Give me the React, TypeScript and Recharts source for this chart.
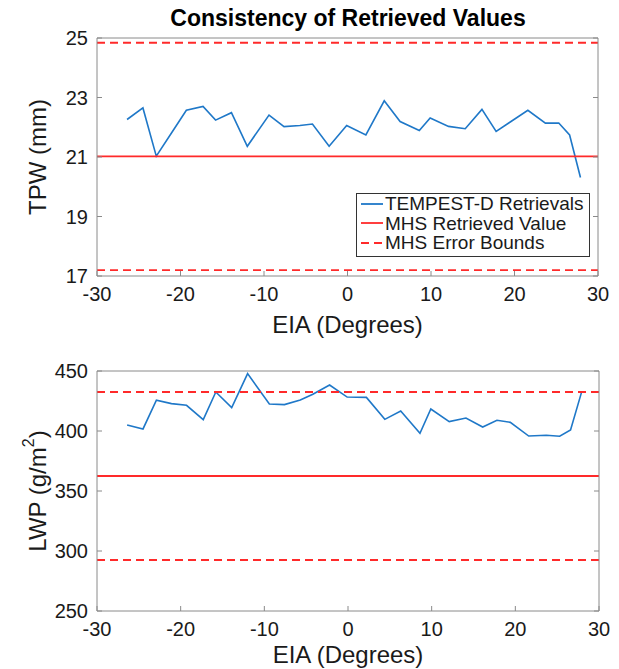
import React from "react";
import { LineChart, Line, XAxis, YAxis, Legend } from "recharts";

// EIA sample angles (degrees)
const eia = [
  -26.4, -24.5, -22.9, -21.1, -19.3, -17.3, -15.8, -13.9, -12.0, -9.4,
  -7.6, -5.7, -4.2, -2.2, -0.1, 2.2, 4.4, 6.3, 8.6, 9.9,
  12.1, 14.1, 16.1, 17.8, 19.4, 21.6, 23.7, 25.3, 26.6, 27.9,
];

// TEMPEST-D retrievals
const tpwRetrieved = [
  22.26, 22.65, 21.03, 21.8, 22.57, 22.7, 22.24, 22.49, 21.36, 22.41,
  22.02, 22.06, 22.11, 21.36, 22.06, 21.74, 22.89, 22.19, 21.89, 22.31,
  22.03, 21.95, 22.6, 21.86, 22.16, 22.57, 22.14, 22.14, 21.74, 20.31,
];
const lwpRetrieved = [
  405, 401.7, 425.6, 422.8, 421.4, 409.5, 432.5, 419.5, 447.8, 422.5,
  422, 425.8, 430.6, 438.3, 428.3, 428, 409.7, 416.7, 398.1, 418.3,
  407.8, 410.8, 403.3, 408.9, 407.2, 395.8, 396.4, 395.6, 400.8, 432,
];

// MHS value and error bounds
const eiaEdges = [-30, 30];
const tpwMhs = 21.02;
const tpwUpper = 24.84;
const tpwLower = 17.2;
const lwpMhs = 362.5;
const lwpUpper = 432.5;
const lwpLower = 292.5;

const eiaTicks = [-30, -20, -10, 0, 10, 20, 30];
const tpwTicks = [17, 19, 21, 23, 25];
const lwpTicks = [250, 300, 350, 400, 450];

const legendOrder = ["TEMPEST-D Retrievals", "MHS Retrieved Value", "MHS Error Bounds"];

const FONT = '"Liberation Sans", Arial, Helvetica, sans-serif';
const BOX = "#8a8a8a";
const TEXT = "#1a1a1a";
const BLUE = "#1f78c8";
const RED = "#ff2a2a";
const DASH = "8 5";

const tpwData = eia.map((e, i) => ({ eia: e, value: tpwRetrieved[i] }));
const lwpData = eia.map((e, i) => ({ eia: e, value: lwpRetrieved[i] }));
const tpwRef = eiaEdges.map((e) => ({ eia: e, mhs: tpwMhs, upper: tpwUpper, lower: tpwLower }));
const lwpRef = eiaEdges.map((e) => ({ eia: e, mhs: lwpMhs, upper: lwpUpper, lower: lwpLower }));

function YTitle(props: any) {
  const vb = props.viewBox || { x: 17, y: 38, width: 80, height: 238 };
  const cx = vb.x + 20;
  const cy = vb.y + vb.height / 2;
  return (
    <text
      x={cx}
      y={cy}
      transform={`rotate(-90 ${cx} ${cy})`}
      textAnchor="middle"
      dominantBaseline="central"
      fontFamily={FONT}
      fontSize={24}
      fill={TEXT}
    >
      {props.text}
      {props.sup ? (
        <>
          <tspan dy={-9} fontSize={16}>{props.sup}</tspan>
          <tspan dy={9}>{props.after}</tspan>
        </>
      ) : null}
    </text>
  );
}

function LegendBox({ payload }: any) {
  const items = legendOrder
    .map((name) => (payload || []).find((e: any) => e.value === name))
    .filter(Boolean);
  return (
    <div
      style={{
        border: "1px solid #333",
        background: "#fff",
        boxSizing: "border-box",
        width: "100%",
        height: "100%",
        padding: "0 0 0 4px",
        fontFamily: FONT,
        fontSize: 19,
        lineHeight: "19.5px",
        color: TEXT,
        textAlign: "left",
      }}
    >
      {items.map((entry: any) => (
        <div key={entry.value} style={{ display: "flex", alignItems: "center", whiteSpace: "nowrap" }}>
          <svg width={22} height={6} style={{ marginRight: 2 }}>
            <line
              x1={0}
              x2={22}
              y1={3}
              y2={3}
              stroke={entry.color}
              strokeWidth={1.8}
              strokeDasharray={entry.payload?.strokeDasharray}
            />
          </svg>
          <span>{entry.value}</span>
        </div>
      ))}
    </div>
  );
}

const tickStyle = { fontSize: 20, fontFamily: FONT };
const lineStyle = { stroke: BOX };

function Panel(p: any) {
  return (
    <LineChart width={619} height={p.height} margin={p.margin}>
      <XAxis
        dataKey="eia"
        type="number"
        domain={[-30, 30]}
        ticks={eiaTicks}
        interval={0}
        allowDataOverflow
        tickSize={-5}
        tickMargin={16}
        height={p.xHeight}
        stroke={TEXT}
        axisLine={lineStyle}
        tickLine={lineStyle}
        tick={tickStyle}
        label={{ value: "EIA (Degrees)", position: "insideTop", offset: p.xLabelOffset, fontSize: 24, fill: TEXT, fontFamily: FONT }}
      />
      <XAxis
        xAxisId="t"
        orientation="top"
        type="number"
        domain={[-30, 30]}
        ticks={eiaTicks}
        interval={0}
        allowDataOverflow
        tickSize={-5}
        height={1}
        axisLine={lineStyle}
        tickLine={lineStyle}
        tickFormatter={() => ""}
      />
      <YAxis
        type="number"
        domain={p.yDomain}
        ticks={p.yTicks}
        interval={0}
        allowDataOverflow
        tickSize={-5}
        tickMargin={14}
        width={80}
        stroke={TEXT}
        axisLine={lineStyle}
        tickLine={lineStyle}
        tick={tickStyle}
        label={p.yLabel}
      />
      <YAxis
        yAxisId="r"
        orientation="right"
        type="number"
        domain={p.yDomain}
        ticks={p.yTicks}
        interval={0}
        allowDataOverflow
        tickSize={-5}
        width={1}
        axisLine={lineStyle}
        tickLine={lineStyle}
        tickFormatter={() => ""}
      />
      <Line
        data={p.data}
        dataKey="value"
        name="TEMPEST-D Retrievals"
        type="linear"
        stroke={BLUE}
        strokeWidth={1.6}
        dot={false}
        activeDot={false}
        isAnimationActive={false}
      />
      <Line
        data={p.refData}
        dataKey="mhs"
        name="MHS Retrieved Value"
        type="linear"
        stroke={RED}
        strokeWidth={1.8}
        dot={false}
        activeDot={false}
        isAnimationActive={false}
      />
      <Line
        data={p.refData}
        dataKey="upper"
        name="MHS Error Bounds"
        type="linear"
        stroke={RED}
        strokeWidth={1.8}
        strokeDasharray={DASH}
        dot={false}
        activeDot={false}
        isAnimationActive={false}
      />
      <Line
        data={p.refData}
        dataKey="lower"
        name="MHS Error Bounds (lower)"
        legendType="none"
        type="linear"
        stroke={RED}
        strokeWidth={1.8}
        strokeDasharray={DASH}
        dot={false}
        activeDot={false}
        isAnimationActive={false}
      />
      {p.legend ? (
        <Legend
          layout="horizontal"
          verticalAlign="middle"
          align="center"
          content={<LegendBox />}
          wrapperStyle={{ left: 356, top: 193, width: 234, height: 64 }}
        />
      ) : null}
    </LineChart>
  );
}

export default function App() {
  return (
    <div
      style={{
        position: "absolute",
        left: 0,
        top: 0,
        width: 619,
        height: 669,
        overflow: "hidden",
        background: "#fff",
      }}
    >
      <div
        style={{
          position: "absolute",
          top: 5,
          left: 97,
          width: 502,
          textAlign: "center",
          fontFamily: FONT,
          fontWeight: "bold",
          fontSize: 23,
          lineHeight: "26px",
          color: "#000",
          zIndex: 2,
        }}
      >
        Consistency of Retrieved Values
      </div>
      <div style={{ position: "absolute", top: 0, left: 0 }}>
        <Panel
          height={345}
          margin={{ top: 37, right: 20, left: 17, bottom: 9 }}
          xHeight={60}
          xLabelOffset={40}
          yDomain={[17, 25]}
          yTicks={tpwTicks}
          yLabel={<YTitle text="TPW (mm)" />}
          data={tpwData}
          refData={tpwRef}
          legend
        />
      </div>
      <div style={{ position: "absolute", top: 335, left: 0 }}>
        <Panel
          height={334}
          margin={{ top: 35, right: 19, left: 17, bottom: 0 }}
          xHeight={58}
          xLabelOffset={35}
          yDomain={[250, 450]}
          yTicks={lwpTicks}
          yLabel={<YTitle text="LWP (g/m" sup="2" after=")" />}
          data={lwpData}
          refData={lwpRef}
        />
      </div>
    </div>
  );
}
